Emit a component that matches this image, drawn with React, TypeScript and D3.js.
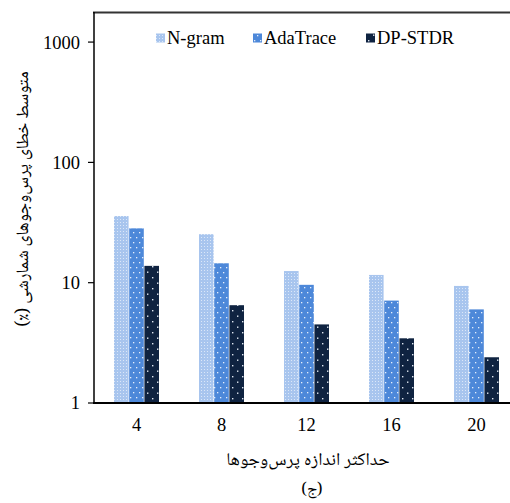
import React from 'react';
import * as d3 from 'd3';

const categories = ['4', '8', '12', '16', '20'];
const seriesNames = ['N-gram', 'AdaTrace', 'DP-STDR'];
const ngram = [35.8, 25.3, 12.5, 11.6, 9.4];
const adaTrace = [28.3, 14.5, 9.6, 7.1, 6.0];
const dpStdr = [13.8, 6.5, 4.5, 3.45, 2.4];
const yTicks = [1, 10, 100, 1000];

const yTitle = 'متوسط خطای پرس‌وجوهای شمارشی (٪)';
const xTitle = 'حداکثر اندازه پرس‌وجوها';
const caption = '(ج)';

const W = 510;
const H = 503;
const serif = "'Liberation Serif'";
const naskh = "'Noto Naskh Arabic'";
const patternIds = ['pat-ngram', 'pat-ada', 'pat-dp'];
const legendX = [156, 253, 366];

const App = () => {
  const values = [ngram, adaTrace, dpStdr];

  // Scales
  const x = d3.scaleBand().domain(categories).range([94, 519]);
  const inner = d3.scaleBand().domain(seriesNames).range([0, 45]).paddingInner(0.04);
  const y = d3.scaleLog().domain([1, Math.pow(10, 3.25)]).range([403, 12]);
  const groupX = (c: string) => (x(c) as number) + x.bandwidth() / 2 - 22.5;

  return (
    <div style={{ position: 'absolute', left: 0, top: 0 }}>
      <svg width={W} height={H} style={{ display: 'block', background: '#fff' }}>
        <defs>
          <pattern id={patternIds[0]} patternUnits="userSpaceOnUse" width={3} height={3}>
            <rect width={3} height={3} fill="#a8c5ee" />
            <rect width={1} height={1} fill="#dbe7f8" />
          </pattern>
          <pattern id={patternIds[1]} patternUnits="userSpaceOnUse" width={6} height={10}>
            <rect width={6} height={10} fill="#4d88d9" />
            <rect x={1} y={2} width={1.3} height={1.3} fill="#e6eefb" />
            <rect x={4} y={7} width={1.3} height={1.3} fill="#e6eefb" />
          </pattern>
          <pattern id={patternIds[2]} patternUnits="userSpaceOnUse" width={10} height={11}>
            <rect width={10} height={11} fill="#0f2341" />
            <rect x={2} y={2} width={1.4} height={1.4} fill="#dfe6f0" />
            <rect x={7} y={7.5} width={1.4} height={1.4} fill="#dfe6f0" />
          </pattern>
        </defs>

        {/* bars */}
        {seriesNames.map((name, si) => (
          <g key={name}>
            {values[si].map((v, i) => (
              <rect
                key={i}
                x={groupX(categories[i]) + (inner(name) as number)}
                y={y(v)}
                width={inner.bandwidth()}
                height={y(1) - y(v)}
                fill={`url(#${patternIds[si]})`}
              />
            ))}
          </g>
        ))}

        {/* frame top + axes */}
        <line x1={93} x2={510} y1={12.5} y2={12.5} stroke="#333" strokeWidth={2} />
        <line x1={94} x2={94} y1={12} y2={403} stroke="#000" strokeWidth={1.5} />
        <line x1={93} x2={510} y1={403} y2={403} stroke="#000" strokeWidth={2} />

        {yTicks.map((t) => (
          <g key={t}>
            <line x1={88} x2={94} y1={y(t)} y2={y(t)} stroke="#000" strokeWidth={1.2} />
            <text x={80} y={y(t)} dy="0.35em" textAnchor="end" fontFamily={serif} fontSize={18.5}>
              {d3.format('d')(t)}
            </text>
          </g>
        ))}

        {categories.map((c) => (
          <text key={c} x={(x(c) as number) + x.bandwidth() / 2} y={425} dy="0.35em"
            textAnchor="middle" fontFamily={serif} fontSize={18.5}>
            {c}
          </text>
        ))}

        {/* titles */}
        <text transform="translate(22,199) rotate(-90)" textAnchor="middle" dy="0.35em"
          direction="rtl" fontFamily={naskh} fontSize={17.5}>
          {yTitle}
        </text>
        <text x={308} y={459} dy="0.35em" textAnchor="middle" direction="rtl"
          fontFamily={naskh} fontSize={18}>
          {xTitle}
        </text>
        <text x={312} y={488} dy="0.35em" textAnchor="middle" fontFamily={naskh} fontSize={16}>
          {caption}
        </text>

        {/* legend */}
        {seriesNames.map((name, i) => (
          <g key={name} transform={`translate(${legendX[i]},38)`}>
            <rect x={0} y={-4.5} width={9} height={9} fill={`url(#${patternIds[i]})`} />
            <text x={11} dy="0.35em" fontFamily={serif} fontSize={18.5}>
              {name}
            </text>
          </g>
        ))}
      </svg>
    </div>
  );
};

export default App;
